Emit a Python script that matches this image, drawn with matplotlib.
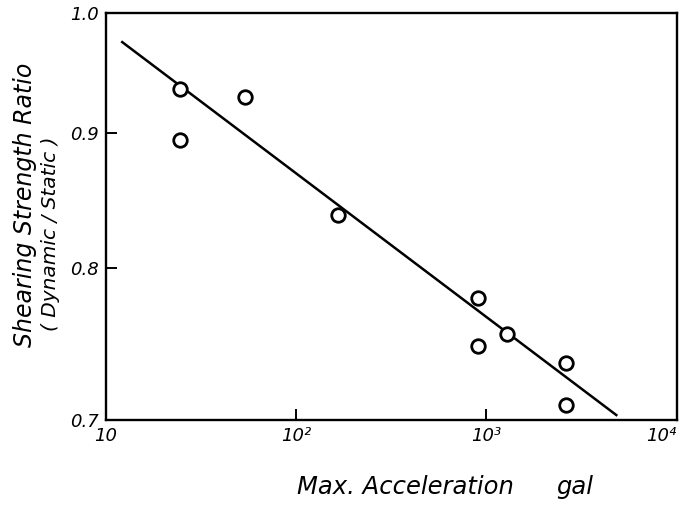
import matplotlib.pyplot as plt
from matplotlib.ticker import FixedLocator, NullLocator

# measured points (max acceleration in gal, strength ratio dynamic/static)
accel = [24.6, 24.6, 54, 167, 907, 907, 1276, 2618, 2618]
ratio = [0.936, 0.895, 0.929, 0.838, 0.779, 0.747, 0.755, 0.736, 0.709]

# fitted straight line end points
line_x = [12.2, 4816]
line_y = [0.975, 0.703]

xticks = [10, 100, 1000, 10000]
xtick_labels = ['10', '10²', '10³', '10⁴']
yticks = [0.7, 0.8, 0.9, 1.0]
ytick_labels = ['0.7', '0.8', '0.9', '1.0']

plt.rcParams['font.family'] = ['DejaVu Sans']
plt.rcParams['font.style'] = 'italic'

fig = plt.figure(figsize=(6.87, 5.09), dpi=100)
ax = fig.add_axes([0.154, 0.175, 0.831, 0.799])

ax.plot(line_x, line_y, color='black', lw=1.8)
ax.scatter(accel, ratio, s=95, facecolors='white', edgecolors='black', linewidths=2.0, zorder=3)

ax.set_xscale('log')
ax.set_yscale('log')
ax.set_xlim(10, 10000)
ax.set_ylim(0.7, 1.0)

ax.xaxis.set_major_locator(FixedLocator(xticks))
ax.xaxis.set_minor_locator(NullLocator())
ax.yaxis.set_major_locator(FixedLocator(yticks))
ax.yaxis.set_minor_locator(NullLocator())
ax.set_xticklabels(xtick_labels, fontsize=13, style='italic')
ax.set_yticklabels(ytick_labels, fontsize=13, style='italic')
ax.tick_params(direction='in', length=8, width=1.4, pad=5)
ax.get_xticklabels()[-1].set_horizontalalignment('right')

for sp in ax.spines.values():
    sp.set_linewidth(1.7)

fig.text(0.036, 0.597, 'Shearing Strength Ratio', rotation=90, fontsize=17,
         style='italic', ha='center', va='center')
fig.text(0.074, 0.54, '( Dynamic / Static )', rotation=90, fontsize=14.5,
         style='italic', ha='center', va='center')
fig.text(0.432, 0.043, 'Max. Acceleration', fontsize=17.5, style='italic',
         ha='left', va='center')
fig.text(0.81, 0.043, 'gal', fontsize=17.5, style='italic', ha='left', va='center')

fig.savefig('out.png', dpi=100)
